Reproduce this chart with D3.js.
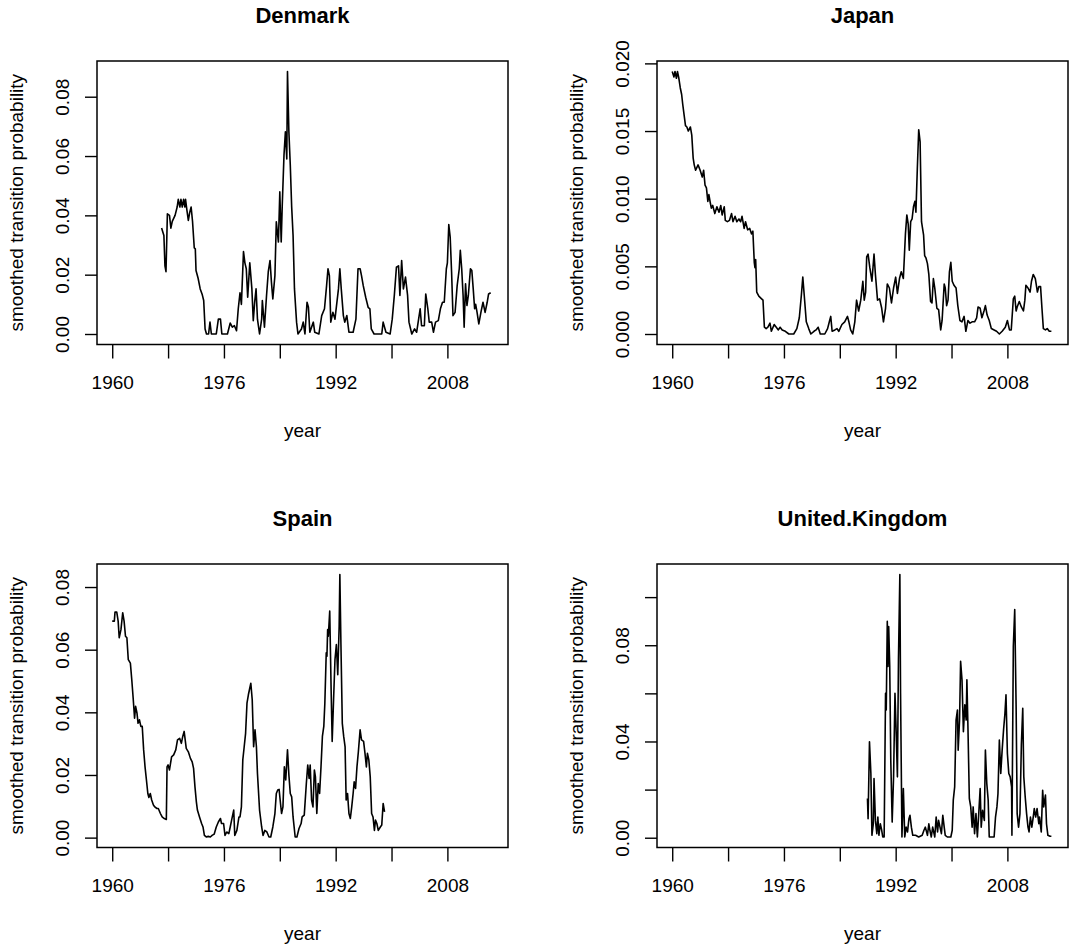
<!DOCTYPE html>
<html><head><meta charset="utf-8">
<script src="https://cdn.jsdelivr.net/npm/d3@7"></script>
<style>
body{margin:0;background:#fff}
svg{display:block}
text{font-family:"Liberation Sans",Arial,Helvetica,sans-serif;fill:#000}
</style>
</head><body>
<svg id="chart" width="1069" height="949"></svg>
<script>
// ---------- data: [year, smoothed transition probability] ----------
const denmark = [[1967.07,.0357],[1967.4,.0332],[1967.55,.023],[1967.7,.021],[1967.9,.0405],[1968.2,.040],[1968.4,.0357],[1968.6,.038],[1969.0,.040],[1969.3,.0428],[1969.46,.0454],[1969.69,.0428],[1969.84,.0454],[1970.03,.0428],[1970.22,.0454],[1970.41,.0428],[1970.5,.0454],[1970.7,.0417],[1970.9,.0383],[1971.1,.041],[1971.3,.0428],[1971.5,.038],[1971.75,.029],[1971.9,.0287],[1972.0,.0214],[1972.3,.0188],[1972.6,.0152],[1972.9,.0132],[1973.1,.0113],[1973.3,.0017],[1973.5,0],[1973.8,0],[1974.0,.004],[1974.2,0],[1974.9,0],[1975.2,.005],[1975.5,.005],[1975.7,0],[1976.5,0],[1976.9,.0037],[1977.2,.0023],[1977.5,.0028],[1977.8,.0011],[1978.05,.0085],[1978.3,.0139],[1978.5,.010],[1978.8,.0278],[1979.0,.024],[1979.2,.022],[1979.4,.0124],[1979.7,.024],[1980.0,.0152],[1980.2,.0045],[1980.4,.0107],[1980.6,.0152],[1980.8,.005],[1981.1,0],[1981.4,.005],[1981.5,.0113],[1981.8,.0023],[1982.1,.013],[1982.35,.021],[1982.6,.0248],[1982.8,.0175],[1983.0,.0118],[1983.3,.0197],[1983.5,.0378],[1983.8,.031],[1984.0,.0479],[1984.2,.031],[1984.35,.0434],[1984.6,.0603],[1984.8,.0682],[1985.0,.059],[1985.1,.0885],[1985.3,.0682],[1985.5,.057],[1985.7,.0428],[1985.9,.0332],[1986.1,.0152],[1986.4,.004],[1986.6,0],[1987.1,.0017],[1987.35,.004],[1987.6,0],[1987.9,.0107],[1988.1,.009],[1988.3,.0006],[1988.8,.004],[1989.0,.0006],[1989.6,0],[1990.0,.0062],[1990.4,.0085],[1990.7,.0163],[1990.9,.022],[1991.1,.0197],[1991.3,.004],[1991.6,.0073],[1991.9,.005],[1992.4,.0152],[1992.6,.022],[1992.8,.0152],[1993.1,.0062],[1993.3,.004],[1993.6,.0062],[1993.9,.0006],[1994.5,.0006],[1994.9,.005],[1995.2,.022],[1995.5,.022],[1995.7,.0197],[1995.95,.0163],[1996.3,.0124],[1996.65,.009],[1996.9,.0085],[1997.1,.0017],[1997.5,0],[1998.6,0],[1998.8,.004],[1999.2,.0006],[1999.8,0],[2000.1,.005],[2000.4,.013],[2000.7,.0225],[2001.0,.023],[2001.2,.013],[2001.45,.0248],[2001.7,.0152],[2002.0,.0192],[2002.3,.013],[2002.5,.004],[2002.9,0],[2003.3,.0017],[2003.6,.0006],[2004.1,.0085],[2004.3,.0028],[2004.7,.0028],[2004.9,.0135],[2005.2,.0085],[2005.4,.004],[2005.75,.004],[2006.0,.0006],[2006.3,.004],[2006.7,.0045],[2007.0,.0085],[2007.3,.0107],[2007.55,.0107],[2007.85,.022],[2008.0,.024],[2008.2,.0369],[2008.4,.0327],[2008.6,.021],[2008.8,.0062],[2009.1,.0073],[2009.4,.0163],[2009.7,.022],[2009.85,.0282],[2010.05,.022],[2010.25,.013],[2010.4,.0023],[2010.6,.0169],[2010.8,.0096],[2011.0,.013],[2011.3,.022],[2011.5,.0214],[2011.7,.0152],[2011.9,.0085],[2012.05,.010],[2012.25,.0073],[2012.5,.0034],[2012.8,.0073],[2013.1,.0107],[2013.4,.0073],[2013.7,.0107],[2013.9,.0135],[2014.2,.0139]];

const japan = [[1960.0,.0194],[1960.25,.019],[1960.4,.0194],[1960.6,.0189],[1960.75,.0194],[1960.95,.0189],[1961.15,.0182],[1961.35,.0177],[1961.5,.017],[1961.7,.0162],[1961.9,.0154],[1962.1,.0153],[1962.3,.015],[1962.6,.0153],[1962.8,.0147],[1963.0,.013],[1963.15,.0125],[1963.35,.0121],[1963.7,.0125],[1964.0,.0121],[1964.3,.0116],[1964.5,.0121],[1964.7,.011],[1964.9,.0108],[1965.1,.0098],[1965.25,.0103],[1965.45,.0097],[1965.6,.0093],[1965.8,.0095],[1966.1,.0089],[1966.4,.0094],[1966.7,.009],[1966.95,.0095],[1967.15,.0088],[1967.45,.0094],[1967.6,.0084],[1967.9,.0083],[1968.2,.0084],[1968.5,.0089],[1968.7,.0083],[1969.0,.0087],[1969.25,.0083],[1969.55,.0085],[1969.8,.0083],[1970.0,.0087],[1970.3,.0078],[1970.5,.0083],[1970.8,.0077],[1971.1,.0078],[1971.35,.0074],[1971.55,.0076],[1971.75,.0053],[1971.85,.0049],[1971.95,.0055],[1972.1,.0031],[1972.4,.0028],[1972.8,.0026],[1973.0,.0025],[1973.2,.0005],[1973.45,.0004],[1973.7,.0005],[1974.0,.0008],[1974.2,.0002],[1974.6,.0007],[1974.9,.0005],[1975.2,.0003],[1975.45,.0005],[1975.75,.0003],[1976.2,.0002],[1976.7,0],[1977.4,0],[1977.85,.0004],[1978.2,.0012],[1978.5,.0029],[1978.7,.0042],[1978.9,.0029],[1979.2,.0009],[1979.55,.0004],[1979.85,0],[1980.3,.0002],[1980.6,.0003],[1980.9,.0005],[1981.2,0],[1981.85,0],[1982.25,.0004],[1982.5,.0009],[1982.7,.0013],[1982.9,.0002],[1983.3,.0003],[1983.6,.0004],[1983.85,.0002],[1984.3,.0007],[1984.7,.0009],[1985.1,.0013],[1985.3,.0009],[1985.55,.0003],[1985.85,0],[1986.15,.0009],[1986.4,.0025],[1986.7,.0017],[1987.0,.0025],[1987.3,.0039],[1987.5,.0025],[1987.7,.0031],[1987.85,.0057],[1988.05,.0059],[1988.3,.0049],[1988.6,.0039],[1988.9,.0059],[1989.1,.0044],[1989.4,.0025],[1989.7,.0026],[1990.0,.0019],[1990.25,.0009],[1990.55,.0019],[1990.8,.0037],[1991.1,.0034],[1991.4,.0023],[1991.7,.0034],[1992.0,.0042],[1992.25,.003],[1992.55,.0041],[1992.8,.0046],[1993.1,.0041],[1993.4,.0074],[1993.6,.0088],[1993.8,.0081],[1993.95,.0062],[1994.15,.0083],[1994.35,.0085],[1994.55,.0094],[1994.75,.0098],[1994.9,.009],[1995.1,.0122],[1995.3,.0151],[1995.5,.0142],[1995.7,.0083],[1996.0,.0073],[1996.15,.0058],[1996.35,.0056],[1996.55,.0052],[1996.75,.0044],[1997.0,.0024],[1997.2,.0023],[1997.4,.0041],[1997.6,.0034],[1997.9,.0019],[1998.15,.0018],[1998.45,.0003],[1998.65,.001],[1998.95,.0037],[1999.1,.0034],[1999.3,.0021],[1999.5,.0025],[1999.7,.0046],[1999.9,.0053],[2000.1,.0039],[2000.35,.0036],[2000.65,.0034],[2000.9,.0021],[2001.2,.001],[2001.5,.0009],[2001.8,.0013],[2002.05,.0002],[2002.35,.001],[2002.65,.0008],[2002.95,.0009],[2003.3,.0009],[2003.6,.0012],[2003.8,.002],[2004.1,.0019],[2004.35,.0012],[2004.65,.0017],[2004.85,.0021],[2005.1,.0014],[2005.4,.001],[2005.7,.0004],[2006.1,.0003],[2006.45,.0002],[2006.85,0],[2007.25,.0002],[2007.7,.0005],[2008.0,.001],[2008.3,.0003],[2008.55,.0003],[2008.85,.0026],[2009.05,.0028],[2009.25,.0017],[2009.4,.002],[2009.7,.0024],[2010.0,.002],[2010.3,.0017],[2010.5,.0025],[2010.65,.0036],[2010.95,.0034],[2011.25,.0031],[2011.45,.0039],[2011.7,.0044],[2012.0,.0041],[2012.3,.0031],[2012.5,.0035],[2012.75,.0035],[2012.95,.0019],[2013.15,.0004],[2013.45,.0003],[2013.7,.0004],[2014.0,.0002],[2014.3,.0002]];

const spain = [[1960.0,.0691],[1960.3,.0691],[1960.4,.072],[1960.65,.072],[1960.85,.0691],[1961.0,.0638],[1961.25,.0664],[1961.5,.0718],[1961.7,.0691],[1961.9,.0643],[1962.1,.0638],[1962.3,.0568],[1962.6,.0557],[1962.8,.0504],[1963.0,.0445],[1963.2,.0381],[1963.35,.0419],[1963.55,.0397],[1963.7,.0365],[1963.9,.0376],[1964.1,.0355],[1964.3,.0355],[1964.5,.028],[1964.7,.0226],[1964.9,.0184],[1965.1,.0141],[1965.25,.0128],[1965.45,.0141],[1965.65,.012],[1965.9,.0104],[1966.1,.0098],[1966.4,.0093],[1966.6,.0093],[1966.9,.0077],[1967.15,.0066],[1967.45,.0061],[1967.75,.0058],[1967.85,.0226],[1968.0,.0232],[1968.2,.0216],[1968.5,.0258],[1968.8,.0264],[1969.1,.028],[1969.35,.0312],[1969.65,.0317],[1969.9,.0301],[1970.1,.0323],[1970.3,.0339],[1970.6,.0285],[1970.9,.0274],[1971.2,.0253],[1971.45,.0242],[1971.65,.0221],[1971.85,.0162],[1972.05,.0114],[1972.2,.0088],[1972.5,.0066],[1972.8,.0045],[1973.0,.0034],[1973.2,.0007],[1973.5,.0002],[1973.75,.0004],[1974.05,.0002],[1974.3,.0007],[1974.6,.0011],[1974.9,.0034],[1975.2,.005],[1975.5,.0061],[1975.65,.0045],[1975.95,.0045],[1976.15,.0007],[1976.4,.0018],[1976.7,.0013],[1976.9,.0034],[1977.1,.0056],[1977.4,.0088],[1977.55,.0007],[1977.85,.0023],[1978.15,.0066],[1978.3,.0066],[1978.5,.0098],[1978.7,.0248],[1978.9,.029],[1979.1,.0333],[1979.3,.0429],[1979.5,.0456],[1979.65,.0472],[1979.85,.0493],[1980.05,.044],[1980.25,.029],[1980.45,.0344],[1980.65,.029],[1980.8,.0205],[1981.1,.0088],[1981.4,.0034],[1981.6,.0007],[1981.85,.0023],[1982.15,.0018],[1982.45,.0002],[1982.7,.0002],[1983.0,.0034],[1983.3,.0077],[1983.5,.0141],[1983.7,.0152],[1983.9,.0154],[1984.05,.012],[1984.25,.0077],[1984.45,.0098],[1984.65,.0226],[1984.85,.0184],[1985.1,.028],[1985.3,.02],[1985.5,.0141],[1985.7,.013],[1985.9,.0066],[1986.2,.0002],[1986.45,.0002],[1986.75,.0029],[1987.05,.0045],[1987.2,.0066],[1987.5,.0072],[1987.8,.0173],[1988.0,.0232],[1988.2,.0189],[1988.35,.0232],[1988.55,.012],[1988.75,.0098],[1988.95,.0216],[1989.1,.0194],[1989.3,.0077],[1989.5,.0173],[1989.7,.0141],[1989.9,.0226],[1990.1,.0323],[1990.3,.0355],[1990.45,.0429],[1990.65,.059],[1990.75,.0579],[1990.85,.0664],[1990.95,.0643],[1991.15,.0723],[1991.35,.0472],[1991.5,.0307],[1991.7,.044],[1991.9,.0568],[1992.1,.0616],[1992.3,.052],[1992.5,.0675],[1992.6,.084],[1992.75,.0622],[1992.95,.0365],[1993.15,.0323],[1993.35,.029],[1993.5,.012],[1993.7,.0141],[1993.9,.0077],[1994.1,.0061],[1994.3,.0098],[1994.5,.0141],[1994.65,.0178],[1994.85,.0157],[1995.05,.0226],[1995.25,.0274],[1995.5,.0344],[1995.7,.0312],[1996.0,.0307],[1996.2,.0269],[1996.4,.0226],[1996.55,.0269],[1996.75,.0248],[1996.95,.0194],[1997.15,.0077],[1997.35,.0066],[1997.55,.0023],[1997.7,.0056],[1997.9,.0045],[1998.1,.0023],[1998.4,.0034],[1998.6,.004],[1998.8,.0109],[1999.0,.0082]];

const unitedKingdom = [[1987.96,.0163],[1988.05,.0079],[1988.25,.0399],[1988.45,.0267],[1988.6,.001],[1988.8,.0058],[1988.9,.0246],[1989.1,.0072],[1989.3,.0017],[1989.45,.0086],[1989.6,.001],[1989.8,.0058],[1990.0,.0031],[1990.15,.0003],[1990.35,.0003],[1990.55,.06],[1990.65,.0531],[1990.8,.0899],[1990.9,.0712],[1991.0,.0878],[1991.15,.0712],[1991.3,.0322],[1991.5,.0065],[1991.7,.0253],[1991.9,.06],[1992.05,.0461],[1992.25,.0253],[1992.4,.074],[1992.6,.1094],[1992.7,.06],[1992.9,.0003],[1993.1,.0204],[1993.3,.0003],[1993.5,.0044],[1993.7,.0024],[1993.9,.0079],[1994.05,.0093],[1994.25,.0044],[1994.45,.001],[1994.85,.001],[1995.3,.0003],[1995.8,.001],[1996.05,.0031],[1996.25,.0044],[1996.55,.001],[1996.75,.0058],[1996.9,.0031],[1997.1,.0003],[1997.3,.0044],[1997.6,.0003],[1997.8,.0086],[1998.0,.0024],[1998.15,.0072],[1998.35,.0044],[1998.55,.0017],[1998.75,.0093],[1998.95,.0044],[1999.1,.001],[1999.4,.0003],[1999.9,.0003],[2000.1,.0031],[2000.25,.0156],[2000.45,.0211],[2000.65,.0489],[2000.85,.0531],[2000.95,.0364],[2001.15,.0489],[2001.3,.0733],[2001.5,.0656],[2001.7,.0441],[2001.9,.0552],[2002.1,.0489],[2002.2,.0656],[2002.35,.0461],[2002.55,.0163],[2002.75,.0128],[2002.95,.0044],[2003.1,.0128],[2003.3,.0017],[2003.5,.01],[2003.7,.0003],[2003.9,.01],[2004.1,.0204],[2004.25,.0044],[2004.45,.0114],[2004.7,.0072],[2004.85,.0364],[2005.05,.0225],[2005.25,.0156],[2005.4,.0003],[2006.1,.0003],[2006.3,.0086],[2006.5,.0128],[2006.65,.0183],[2006.85,.0406],[2007.05,.0267],[2007.25,.0364],[2007.45,.0448],[2007.65,.0517],[2007.8,.0594],[2008.0,.035],[2008.2,.0267],[2008.4,.0253],[2008.6,.0211],[2008.65,.001],[2008.85,.0795],[2009.05,.0948],[2009.25,.0545],[2009.4,.01],[2009.6,.0044],[2009.8,.01],[2010.0,.0385],[2010.2,.0538],[2010.35,.0253],[2010.55,.017],[2010.75,.01],[2010.95,.0044],[2011.1,.0024],[2011.3,.0086],[2011.5,.0044],[2011.7,.0086],[2011.85,.0121],[2012.05,.0086],[2012.25,.0121],[2012.5,.0058],[2012.6,.0086],[2012.85,.0024],[2013.05,.0197],[2013.2,.0128],[2013.45,.0177],[2013.6,.0058],[2013.8,.001],[2014.1,.0006],[2014.3,.0006]];

const countries = ["Denmark", "Japan", "Spain", "United.Kingdom"];
const seriesList = [denmark, japan, spain, unitedKingdom];
const xTicks = [1960, 1968, 1976, 1984, 1992, 2000, 2008];
const xTickLabels = [1960, 1976, 1992, 2008];
const xDataRange = [1960, 2014.5];
const yTicksList = [
  [0, 0.02, 0.04, 0.06, 0.08],
  [0, 0.005, 0.010, 0.015, 0.020],
  [0, 0.02, 0.04, 0.06, 0.08],
  [0, 0.02, 0.04, 0.06, 0.08, 0.10]
];
const yTickLabelsList = [
  [0, 0.02, 0.04, 0.06, 0.08],
  [0, 0.005, 0.010, 0.015, 0.020],
  [0, 0.02, 0.04, 0.06, 0.08],
  [0, 0.04, 0.08]
];
const yFormats = [".2f", ".3f", ".2f", ".2f"];
const xTitle = "year";
const yTitle = "smoothed transition probability";

// ---------- layout ----------
const boxW = 411, boxH = 283.5;
const boxPos = [[97, 61], [657, 61], [97, 564], [657, 564]];
const axisFont = 19, titleFont = 22;

const svg = d3.select("#chart");

countries.forEach((name, i) => {
  const [left, top] = boxPos[i];
  const right = left + boxW, bottom = top + boxH;
  const data = seriesList[i];

  const xr = xDataRange[1] - xDataRange[0];
  const x = d3.scaleLinear()
    .domain([xDataRange[0] - 0.04 * xr, xDataRange[1] + 0.04 * xr])
    .range([left, right]);
  const yMin = d3.min(data, d => d[1]), yMax = d3.max(data, d => d[1]);
  const yr = yMax - yMin;
  const y = d3.scaleLinear()
    .domain([yMin - 0.04 * yr, yMax + 0.04 * yr])
    .range([bottom, top]);

  const g = svg.append("g");

  // x axis
  const xAxis = d3.axisBottom(x).tickValues(xTicks).tickSize(14).tickPadding(17)
    .tickFormat(d => xTickLabels.includes(d) ? String(d) : "");
  const gx = g.append("g").attr("transform", `translate(0,${bottom})`).call(xAxis);
  gx.select(".domain").remove();
  gx.selectAll(".tick line").attr("stroke", "#000").attr("stroke-width", 1.4);
  gx.selectAll("text").attr("font-size", axisFont).attr("font-family", null).attr("fill", "#000");

  // y axis
  const labs = yTickLabelsList[i];
  const fmt = d3.format(yFormats[i]);
  const yAxis = d3.axisLeft(y).tickValues(yTicksList[i]).tickSize(12)
    .tickFormat(d => labs.some(v => Math.abs(v - d) < 1e-9) ? fmt(d) : "");
  const gy = g.append("g").attr("transform", `translate(${left},0)`).call(yAxis);
  gy.select(".domain").remove();
  gy.selectAll(".tick line").attr("stroke", "#000").attr("stroke-width", 1.4);
  gy.selectAll("text")
    .attr("font-size", axisFont).attr("font-family", null).attr("fill", "#000")
    .attr("x", null).attr("dy", "0.35em")
    .attr("text-anchor", "middle")
    .attr("transform", "translate(-35,0) rotate(-90)");

  // line
  const line = d3.line().x(d => x(d[0])).y(d => y(d[1]));
  g.append("path").datum(data)
    .attr("fill", "none").attr("stroke", "#000").attr("stroke-width", 1.6)
    .attr("stroke-linejoin", "round")
    .attr("d", line);

  // box
  g.append("rect").attr("x", left).attr("y", top).attr("width", boxW).attr("height", boxH)
    .attr("fill", "none").attr("stroke", "#000").attr("stroke-width", 1.5);

  // title
  g.append("text").attr("x", (left + right) / 2).attr("y", top - 46)
    .attr("dy", "0.35em").attr("text-anchor", "middle")
    .attr("font-size", titleFont).attr("font-weight", "bold").text(name);

  // axis titles
  g.append("text").attr("x", (left + right) / 2).attr("y", bottom + 86)
    .attr("dy", "0.35em").attr("text-anchor", "middle")
    .attr("font-size", axisFont).text(xTitle);
  g.append("text")
    .attr("transform", `translate(${left - 81},${(top + bottom) / 2}) rotate(-90)`)
    .attr("dy", "0.35em").attr("text-anchor", "middle")
    .attr("font-size", axisFont).text(yTitle);
});
</script>
</body></html>
